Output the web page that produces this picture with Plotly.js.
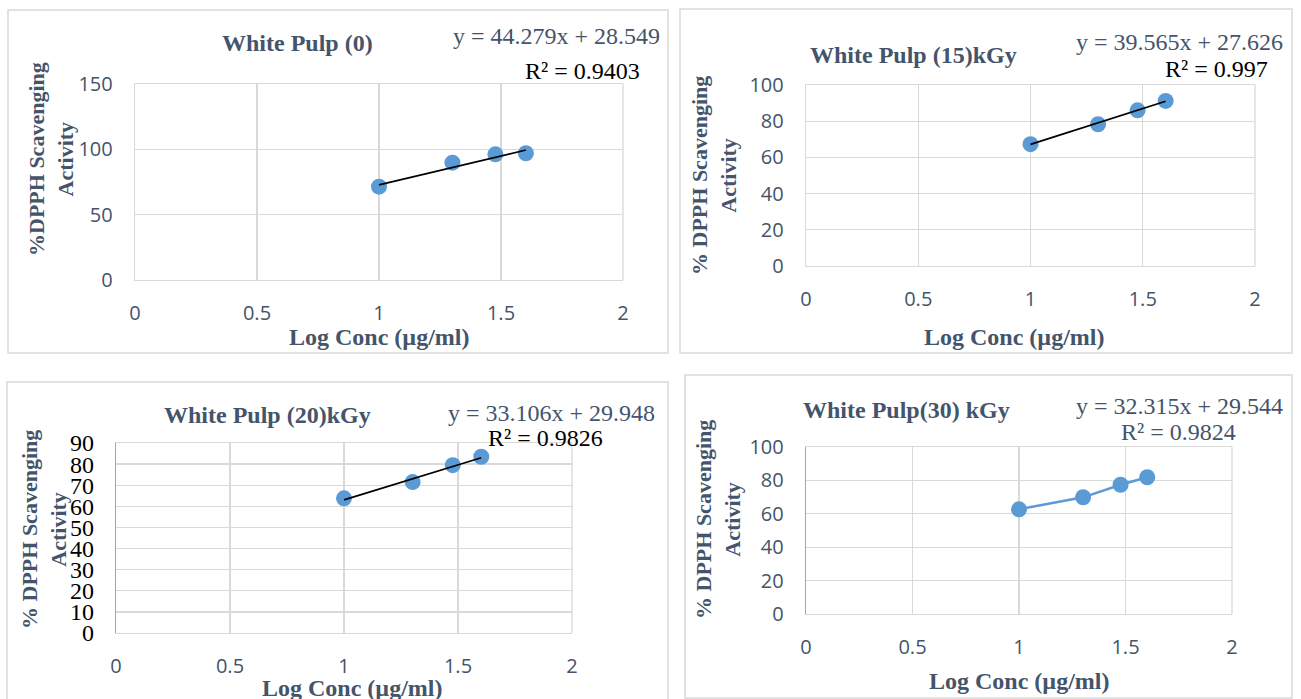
<!DOCTYPE html>
<html>
<head>
<meta charset="utf-8">
<script src="https://cdn.plot.ly/plotly-3.0.1.min.js"></script>
<style>html,body{margin:0;padding:0;background:#fff;}#chart{width:1301px;height:699px;}</style>
</head>
<body>
<div id="chart"></div>
<script>
// ---- data ----
const logConc = [1, 1.301, 1.477, 1.602];
const wp0  = [71.4, 89.8, 96.2, 97.0];
const wp15 = [67.3, 78.3, 86.0, 91.2];
const wp20 = [63.8, 71.5, 79.5, 83.5];
const wp30 = [62.7, 69.9, 77.4, 81.9];
const titles = ['White Pulp (0)', 'White Pulp (15)kGy', 'White Pulp (20)kGy', 'White Pulp(30) kGy'];
const slopes = [44.279, 39.565, 33.106, 32.315];
const intercepts = [28.549, 27.626, 29.948, 29.544];
const r2Labels = ['0.9403', '0.997', '0.9826', '0.9824'];
const yTitles = ['%DPPH Scavenging<br>Activity', '% DPPH Scavenging<br>Activity', '% DPPH Scavenging<br>Activity', '% DPPH Scavenging<br>Activity'];
const xTitle = 'Log Conc (µg/ml)';
const xTicks = [0, 0.5, 1, 1.5, 2];
const yMax = [150, 100, 90, 100];
const yStep = [50, 20, 10, 20];

// ---- layout geometry (pixels) ----
const W = 1301, H = 699;
const px = v => v / W;
const py = v => 1 - v / H;
const SLATE = '#44546A';
const GRID = '#D9D9D9';

const panels = [
  {plot: [135, 623, 84, 280], box: [8, 668, 10, 353], title: [297, 43], eq: [556, 36], r2: [582, 71], r2c: '#000', xt: [379, 337], yt: [51, 159]},
  {plot: [806, 1255, 85, 266], box: [680, 1292, 9, 353], title: [913, 55], eq: [1179, 42], r2: [1216, 69], r2c: '#000', xt: [1014, 337], yt: [714, 176]},
  {plot: [116, 572, 443, 633], box: [7, 668, 382, 720], title: [267, 415], eq: [551, 413], r2: [545, 438], r2c: '#000', xt: [352, 688], yt: [44, 530]},
  {plot: [806, 1232, 447, 614], box: [685, 1292, 375, 698], title: [906, 410], eq: [1179, 406], r2: [1178, 432], r2c: SLATE, xt: [1019, 681], yt: [718, 520]}
];
const series = [wp0, wp15, wp20, wp30];

const data = [];
const layout = {
  width: W, height: H,
  margin: {l: 0, r: 0, t: 0, b: 0},
  paper_bgcolor: '#fff', plot_bgcolor: '#fff',
  showlegend: false,
  shapes: [], annotations: []
};

panels.forEach((p, i) => {
  const n = i === 0 ? '' : String(i + 1);
  const xa = 'x' + n, ya = 'y' + n;
  data.push({
    x: logConc, y: series[i], xaxis: xa, yaxis: ya,
    type: 'scatter', mode: i === 3 ? 'lines+markers' : 'markers',
    marker: {color: '#5B9BD5', size: 16, line: {width: 0}},
    line: {color: '#5B9BD5', width: 2.4},
    cliponaxis: false
  });
  if (i < 3) {
    const x0 = logConc[0], x1 = logConc[logConc.length - 1];
    data.push({
      x: [x0, x1], y: [slopes[i] * x0 + intercepts[i], slopes[i] * x1 + intercepts[i]],
      xaxis: xa, yaxis: ya, type: 'scatter', mode: 'lines',
      line: {color: '#000', width: 1.7}
    });
  }
  const ylabFont = i === 2 ? {family: 'Liberation Serif, Times New Roman, serif', size: 24, color: '#000'}
                           : {family: 'Open Sans, sans-serif', size: 20, color: SLATE};
  layout['xaxis' + n] = {
    domain: [px(p.plot[0]), px(p.plot[1])], anchor: ya,
    range: [0, 2], tickvals: xTicks, ticktext: xTicks.map(String),
    showgrid: true, gridcolor: GRID, gridwidth: 1.3, zeroline: false,
    showline: true, linecolor: GRID, linewidth: 1.3, mirror: true,
    ticks: 'outside', ticklen: 15, tickcolor: 'rgba(0,0,0,0)',
    tickfont: {family: 'Open Sans, sans-serif', size: 20, color: SLATE},
    fixedrange: true
  };
  const yv = [];
  for (let v = 0; v <= yMax[i]; v += yStep[i]) yv.push(v);
  layout['yaxis' + n] = {
    domain: [py(p.plot[3]), py(p.plot[2])], anchor: xa,
    range: [0, yMax[i]], tickvals: yv, ticktext: yv.map(String),
    showgrid: true, gridcolor: GRID, gridwidth: 1.3, zeroline: false,
    showline: true, linecolor: i >= 2 ? '#A6A6A6' : GRID, linewidth: 1.3, mirror: false,
    ticks: 'outside', ticklen: i === 2 ? 16 : 17, tickcolor: 'rgba(0,0,0,0)',
    tickfont: ylabFont,
    fixedrange: true
  };
  layout.shapes.push({type: 'line', xref: 'paper', yref: 'paper',
    x0: px(p.plot[1]), x1: px(p.plot[1]), y0: py(p.plot[3]), y1: py(p.plot[2]),
    line: {color: GRID, width: 1.3}});
  layout.shapes.push({type: 'rect', xref: 'paper', yref: 'paper',
    x0: px(p.box[0]), x1: px(p.box[1]), y0: py(p.box[3]), y1: py(p.box[2]),
    line: {color: GRID, width: 1.5}, fillcolor: 'rgba(0,0,0,0)', layer: 'below'});
  layout.annotations.push({xref: 'paper', yref: 'paper', x: px(p.title[0]), y: py(p.title[1]),
    xanchor: 'center', yanchor: 'middle', showarrow: false, text: '<b>' + titles[i] + '</b>',
    font: {family: 'Liberation Serif, Times New Roman, serif', size: 24, color: SLATE}});
  layout.annotations.push({xref: 'paper', yref: 'paper', x: px(p.eq[0]), y: py(p.eq[1]),
    xanchor: 'center', yanchor: 'middle', showarrow: false,
    text: 'y = ' + slopes[i].toFixed(3) + 'x + ' + intercepts[i].toFixed(3),
    font: {family: 'Liberation Serif, Times New Roman, serif', size: 24, color: SLATE}});
  layout.annotations.push({xref: 'paper', yref: 'paper', x: px(p.r2[0]), y: py(p.r2[1]),
    xanchor: 'center', yanchor: 'middle', showarrow: false,
    text: 'R² = ' + r2Labels[i],
    font: {family: 'Liberation Serif, Times New Roman, serif', size: 24, color: p.r2c}});
  layout.annotations.push({xref: 'paper', yref: 'paper', x: px(p.xt[0]), y: py(p.xt[1]),
    xanchor: 'center', yanchor: 'middle', showarrow: false, text: '<b>' + xTitle + '</b>',
    font: {family: 'Liberation Serif, Times New Roman, serif', size: 24, color: SLATE}});
  layout.annotations.push({xref: 'paper', yref: 'paper', x: px(p.yt[0]), y: py(p.yt[1]),
    xanchor: 'center', yanchor: 'middle', showarrow: false, textangle: -90,
    text: '<b>' + yTitles[i] + '</b>',
    font: {family: 'Liberation Serif, Times New Roman, serif', size: 22, color: SLATE}});
});

Plotly.newPlot('chart', data, layout, {displayModeBar: false, staticPlot: true});
</script>
</body>
</html>
